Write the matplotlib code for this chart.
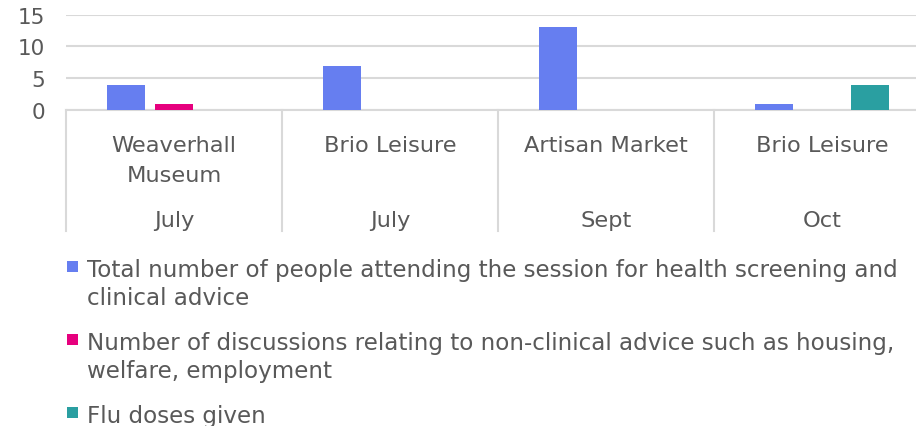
import matplotlib
matplotlib.use("Agg")
import matplotlib.pyplot as plt
from matplotlib.patches import Rectangle
from matplotlib.lines import Line2D
import matplotlib.transforms as mtransforms
import numpy as np

venues = ["Weaverhall\nMuseum", "Brio Leisure", "Artisan Market", "Brio Leisure"]
months = ["July", "July", "Sept", "Oct"]
series_names = [
    "Total number of people attending the session for health screening and\nclinical advice",
    "Number of discussions relating to non-clinical advice such as housing,\nwelfare, employment",
    "Flu doses given",
]
total_people = [4, 7, 13, 1]
non_clinical = [1, 0, 0, 0]
flu_doses = [0, 0, 0, 4]
colors = ["#667EF0", "#E6007E", "#2A9FA1"]
yticks = [0, 5, 10, 15]

TXT = "#595959"
GRID = "#D9D9D9"
FONT = "DejaVu Sans"
FS_TICK = 15.5
FS_CAT = 16.2
FS_LEG = 16.6

W, H = 916, 427
fig = plt.figure(figsize=(W / 100, H / 100), dpi=100)
ax_left, ax_right, ax_top, ax_bot = 66, 930, 15.7, 111
ax = fig.add_axes([ax_left / W, 1 - ax_bot / H, (ax_right - ax_left) / W, (ax_bot - ax_top) / H])

x = np.arange(len(venues))
bw = 38 / 216
off = 48 / 216
for i, (vals, c) in enumerate(zip([total_people, non_clinical, flu_doses], colors)):
    ax.bar(x + (i - 1) * off, vals, width=bw, color=c, zorder=3)

ax.set_xlim(-0.5, len(venues) - 0.5)
ax.set_ylim(0, 15)
ax.set_yticks(yticks)
ax.set_yticklabels([str(t) for t in yticks], fontsize=FS_TICK, color=TXT, family=FONT)
ax.tick_params(axis="y", length=0, pad=15)
ax.set_xticks([])
ax.grid(axis="y", color=GRID, linewidth=1.5, zorder=0)
for s in ["top", "right", "left"]:
    ax.spines[s].set_visible(False)
ax.spines["bottom"].set_color(GRID)
ax.spines["bottom"].set_linewidth(1.5)


def fig_y(py):
    return 1 - py / H


trans = mtransforms.blended_transform_factory(ax.transData, fig.transFigure)
for i, (v, m) in enumerate(zip(venues, months)):
    for j, ln in enumerate(v.split("\n")):
        ax.text(i, fig_y(152 + 30 * j), ln, transform=trans, ha="center", va="baseline",
                fontsize=FS_CAT, color=TXT, family=FONT, clip_on=False)
    ax.text(i, fig_y(227), m, transform=trans, ha="center", va="baseline",
            fontsize=FS_CAT, color=TXT, family=FONT, clip_on=False)
for b in np.arange(-0.5, len(venues), 1.0):
    ax.add_line(Line2D([b, b], [fig_y(111), fig_y(232)], transform=trans, color=GRID,
                       linewidth=1.5, clip_on=False))

# legend
base = [277, 350, 423]
for name, c, by in zip(series_names, colors, base):
    fig.add_artist(Rectangle((67 / W, fig_y(by - 4)), 11 / W, 11 / H, transform=fig.transFigure,
                             facecolor=c, edgecolor="none"))
    for j, ln in enumerate(name.split("\n")):
        fig.text(87 / W, fig_y(by + 28 * j), ln, ha="left", va="baseline", fontsize=FS_LEG,
                 color=TXT, family=FONT)

fig.savefig("out.png", dpi=100)
